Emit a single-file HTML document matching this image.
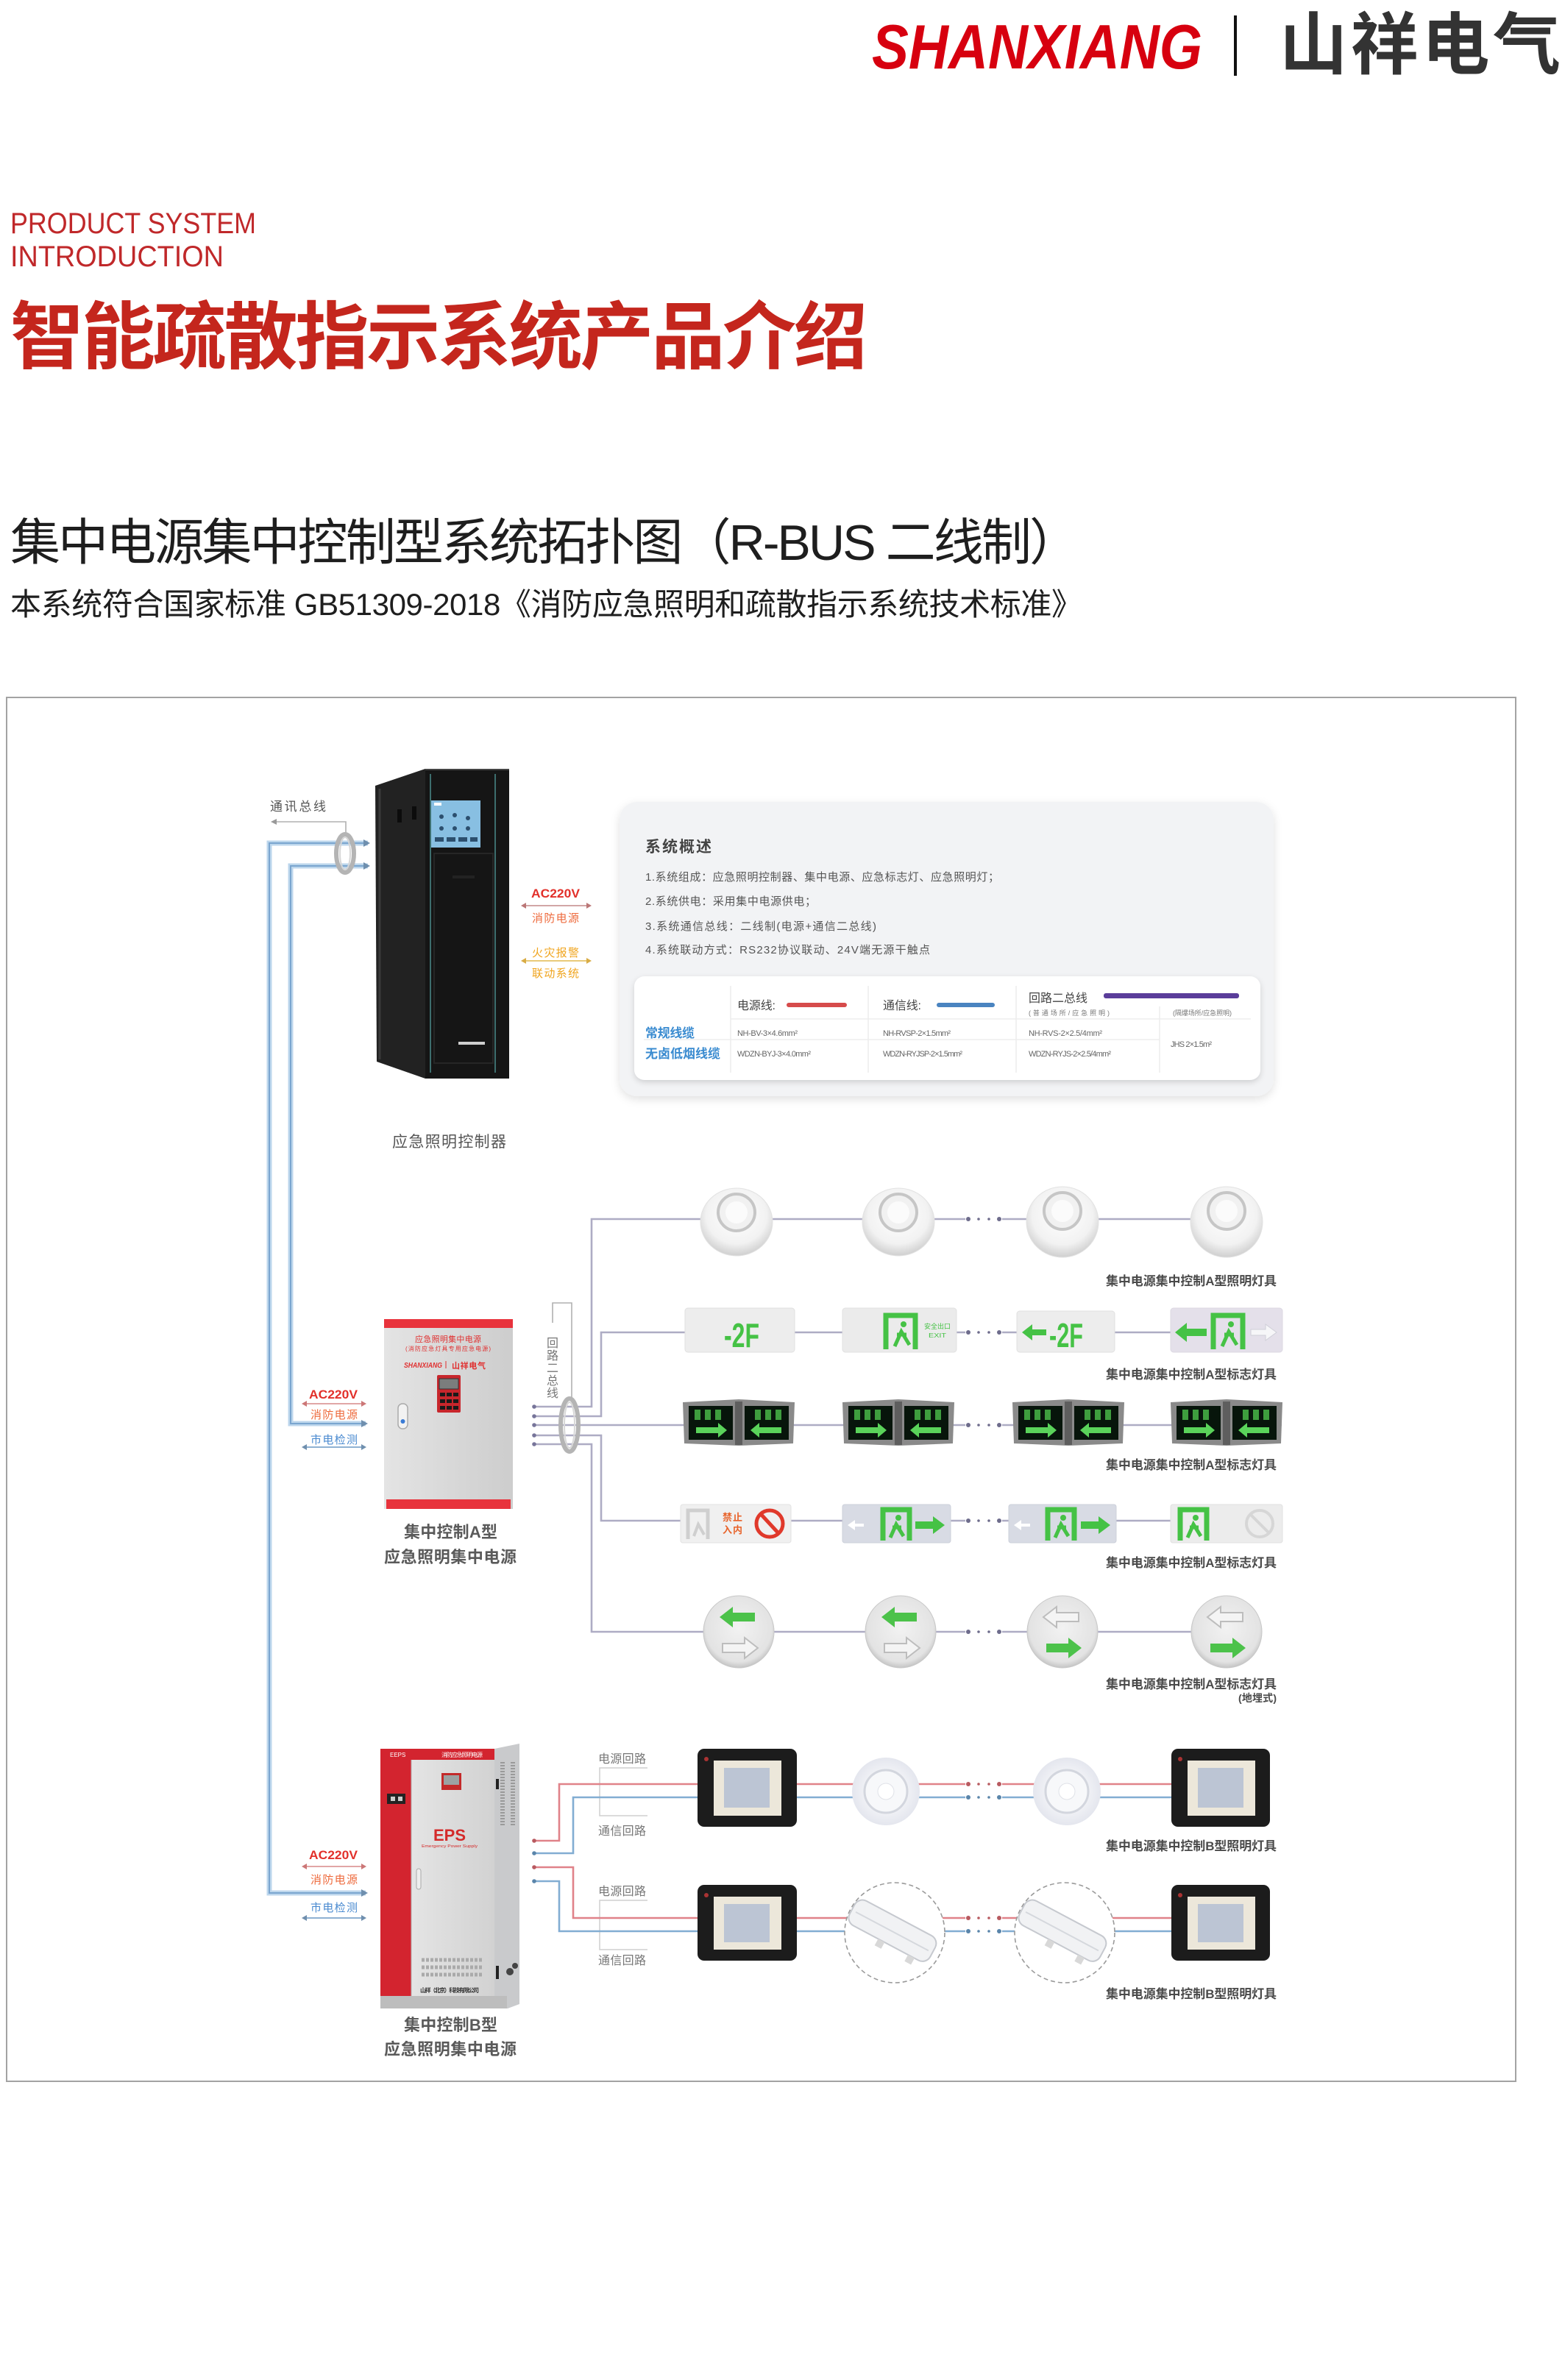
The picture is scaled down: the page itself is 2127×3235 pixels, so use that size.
<!DOCTYPE html>
<html><head><meta charset="utf-8">
<style>
html,body{margin:0;padding:0;background:#fff;}
body{width:2127px;height:3235px;overflow:hidden;position:relative;}
svg{position:absolute;left:0;top:0;}
.f{font-family:"Liberation Sans","Noto Sans CJK SC",sans-serif;}
</style></head>
<body>
<svg width="2127" height="3235" viewBox="0 0 2127 3235" xmlns="http://www.w3.org/2000/svg">
<defs>
<filter id="sh" x="-5%" y="-5%" width="110%" height="115%"><feDropShadow dx="0" dy="4" stdDeviation="6" flood-color="#000" flood-opacity="0.12"/></filter>
<filter id="sh2" x="-5%" y="-10%" width="110%" height="130%"><feDropShadow dx="0" dy="3" stdDeviation="4" flood-color="#000" flood-opacity="0.15"/></filter>
<radialGradient id="dome" cx="50%" cy="40%" r="60%"><stop offset="0" stop-color="#ffffff"/><stop offset="0.7" stop-color="#f2f2f2"/><stop offset="1" stop-color="#cfcfcf"/></radialGradient>
<radialGradient id="floor" cx="50%" cy="45%" r="55%"><stop offset="0" stop-color="#f2f2f2"/><stop offset="0.85" stop-color="#e3e3e3"/><stop offset="1" stop-color="#c4c4c4"/></radialGradient>
<radialGradient id="down" cx="50%" cy="50%" r="50%"><stop offset="0" stop-color="#ffffff"/><stop offset="0.6" stop-color="#f1f2f6"/><stop offset="1" stop-color="#e4e6ee"/></radialGradient>
<linearGradient id="gA" x1="0" x2="1"><stop offset="0" stop-color="#e4e4e4"/><stop offset="1" stop-color="#cdcdcd"/></linearGradient>
<linearGradient id="gDoor" x1="0" x2="1"><stop offset="0" stop-color="#e4e4e4"/><stop offset="1" stop-color="#d2d2d2"/></linearGradient>
</defs>

<!-- HEADER -->
<text x="1185" y="93" font-family="Liberation Sans, sans-serif" font-weight="700" font-style="italic" font-size="85" fill="#d7000f" textLength="449" lengthAdjust="spacingAndGlyphs">SHANXIANG</text>
<rect x="1677" y="21" width="4" height="82" fill="#111"/>
<text class="f" x="1739" y="93" font-size="92" font-weight="700" fill="#333" textLength="382" lengthAdjust="spacing">山祥电气</text>

<text x="14" y="317" font-family="Liberation Sans, sans-serif" font-size="40" fill="#c0282a" textLength="334" lengthAdjust="spacingAndGlyphs">PRODUCT SYSTEM</text>
<text x="14" y="362" font-family="Liberation Sans, sans-serif" font-size="40" fill="#c0282a" textLength="290" lengthAdjust="spacingAndGlyphs">INTRODUCTION</text>
<text class="f" x="14" y="493" font-size="100" font-weight="700" fill="#c4261d" textLength="1165" lengthAdjust="spacing">智能疏散指示系统产品介绍</text>

<text class="f" x="14" y="761" font-size="68" fill="#1e1e1e" textLength="1453" lengthAdjust="spacing">集中电源集中控制型系统拓扑图（R-BUS 二线制）</text>
<text class="f" x="14" y="836" font-size="42" fill="#1e1e1e" textLength="1457" lengthAdjust="spacing">本系统符合国家标准 GB51309-2018《消防应急照明和疏散指示系统技术标准》</text>

<!-- DIAGRAM BORDER -->
<rect x="9" y="948" width="2051" height="1881" fill="none" stroke="#a3a3a3" stroke-width="2"/>

<!-- comm bus label + line -->
<text class="f" x="367" y="1102" font-size="17" fill="#555" textLength="76" lengthAdjust="spacing">通讯总线</text>
<path d="M372,1117 H470 V1134" fill="none" stroke="#b0b0b0" stroke-width="1.6"/>
<polygon points="368,1117 376,1113 376,1121" fill="#999"/>

<!-- blue pipes -->
<path d="M500,1146 H366 V2573 H497" fill="none" stroke="#bcd6ec" stroke-width="7"/>
<path d="M500,1146 H366 V2573 H497" fill="none" stroke="#7aa5cf" stroke-width="2"/>
<path d="M500,1177 H395 V1935 H497" fill="none" stroke="#bcd6ec" stroke-width="7"/>
<path d="M500,1177 H395 V1935 H497" fill="none" stroke="#7aa5cf" stroke-width="2"/>
<polygon points="503,1146 494,1141 494,1151" fill="#6f8fae"/>
<polygon points="503,1177 494,1172 494,1182" fill="#6f8fae"/>
<polygon points="500,1935 491,1930 491,1940" fill="#6f8fae"/>
<polygon points="500,2573 491,2568 491,2578" fill="#6f8fae"/>
<!-- ring top -->
<ellipse cx="469" cy="1160" rx="12" ry="26" fill="none" stroke="#b4b4b4" stroke-width="6"/>
<ellipse cx="469" cy="1160" rx="7" ry="22" fill="none" stroke="#d6d6d6" stroke-width="2"/>

<!-- CONTROLLER CABINET -->
<polygon points="510,1068 578,1045 578,1466 512,1443" fill="#222"/>
<line x1="516" y1="1072" x2="516" y2="1440" stroke="#3a3a3a" stroke-width="3"/>
<rect x="540" y="1100" width="6" height="18" fill="#0c0c0c"/>
<rect x="560" y="1096" width="6" height="18" fill="#0c0c0c"/>
<rect x="578" y="1045" width="114" height="421" fill="#151515"/>
<line x1="578" y1="1046" x2="692" y2="1046" stroke="#444" stroke-width="2"/>
<line x1="585" y1="1052" x2="585" y2="1458" stroke="#3d6e6e" stroke-width="2"/>
<line x1="673" y1="1052" x2="673" y2="1458" stroke="#3d6e6e" stroke-width="2"/>
<rect x="586" y="1088" width="67" height="64" fill="#88bfe2"/>
<rect x="590" y="1091" width="10" height="4" fill="#fff"/>
<circle cx="600" cy="1110" r="3" fill="#2c4f6e"/><circle cx="618" cy="1108" r="3" fill="#2c4f6e"/><circle cx="636" cy="1112" r="3" fill="#2c4f6e"/>
<circle cx="600" cy="1126" r="3" fill="#2c4f6e"/><circle cx="618" cy="1126" r="3" fill="#2c4f6e"/><circle cx="636" cy="1126" r="3" fill="#2c4f6e"/>
<rect x="591" y="1138" width="12" height="6" fill="#2c4f6e"/><rect x="607" y="1138" width="12" height="6" fill="#2c4f6e"/><rect x="623" y="1138" width="12" height="6" fill="#2c4f6e"/><rect x="639" y="1138" width="10" height="6" fill="#2c4f6e"/>
<rect x="590" y="1160" width="80" height="285" fill="none" stroke="#262626" stroke-width="2"/>
<rect x="615" y="1190" width="30" height="4" fill="#222"/>
<rect x="623" y="1416" width="36" height="4" fill="#cfcfcf"/>
<text class="f" x="533" y="1559" font-size="21" fill="#555" textLength="155" lengthAdjust="spacing">应急照明控制器</text>

<!-- right labels of controller -->
<text class="f" x="722" y="1220" font-size="17" font-weight="700" fill="#e2302a" textLength="66" lengthAdjust="spacingAndGlyphs">AC220V</text>
<line x1="712" y1="1231" x2="800" y2="1231" stroke="#c99" stroke-width="1.8"/>
<polygon points="708,1231 715,1227 715,1235" fill="#b77"/><polygon points="804,1231 797,1227 797,1235" fill="#b77"/>
<text class="f" x="723" y="1253" font-size="15" fill="#ee6a3c" textLength="64" lengthAdjust="spacing">消防电源</text>
<text class="f" x="723" y="1300" font-size="15" fill="#f0a51f" textLength="64" lengthAdjust="spacing">火灾报警</text>
<line x1="712" y1="1306" x2="800" y2="1306" stroke="#e6c267" stroke-width="1.8"/>
<polygon points="708,1306 715,1302 715,1310" fill="#d9ac45"/><polygon points="804,1306 797,1302 797,1310" fill="#d9ac45"/>
<text class="f" x="723" y="1328" font-size="15" fill="#f0a51f" textLength="64" lengthAdjust="spacing">联动系统</text>

<!-- INFO BOX -->
<rect x="842" y="1090" width="889" height="400" rx="24" fill="#f2f3f5" filter="url(#sh)"/>
<text class="f" x="877" y="1158" font-size="21" font-weight="700" fill="#444" textLength="90" lengthAdjust="spacing">系统概述</text>
<text class="f" x="877" y="1197" font-size="15" fill="#555" textLength="481" lengthAdjust="spacing">1.系统组成：应急照明控制器、集中电源、应急标志灯、应急照明灯；</text>
<text class="f" x="877" y="1230" font-size="15" fill="#555" textLength="232" lengthAdjust="spacing">2.系统供电：采用集中电源供电；</text>
<text class="f" x="877" y="1264" font-size="15" fill="#555" textLength="314" lengthAdjust="spacing">3.系统通信总线：二线制(电源+通信二总线)</text>
<text class="f" x="877" y="1296" font-size="15" fill="#555" textLength="387" lengthAdjust="spacing">4.系统联动方式：RS232协议联动、24V端无源干触点</text>

<rect x="862" y="1327" width="851" height="141" rx="14" fill="#fff" filter="url(#sh2)"/>
<line x1="993" y1="1340" x2="993" y2="1458" stroke="#ececec" stroke-width="1.5"/>
<line x1="1180" y1="1340" x2="1180" y2="1458" stroke="#ececec" stroke-width="1.5"/>
<line x1="1381" y1="1340" x2="1381" y2="1458" stroke="#ececec" stroke-width="1.5"/>
<line x1="1576" y1="1368" x2="1576" y2="1458" stroke="#ececec" stroke-width="1.5"/>
<line x1="993" y1="1385" x2="1700" y2="1385" stroke="#ededed" stroke-width="1.5"/>
<line x1="875" y1="1413" x2="1576" y2="1413" stroke="#ededed" stroke-width="1.5"/>
<text class="f" x="1002" y="1372" font-size="16" fill="#444" textLength="52" lengthAdjust="spacing">电源线:</text>
<rect x="1069" y="1363" width="82" height="6" rx="3" fill="#d64b4b"/>
<text class="f" x="1200" y="1372" font-size="16" fill="#444" textLength="52" lengthAdjust="spacing">通信线:</text>
<rect x="1273" y="1363" width="79" height="6" rx="3" fill="#4a84c0"/>
<text class="f" x="1398" y="1362" font-size="16" fill="#444" textLength="80" lengthAdjust="spacing">回路二总线</text>
<rect x="1500" y="1350" width="184" height="7" rx="3" fill="#5a3d9a"/>
<text class="f" x="1398" y="1380" font-size="9" fill="#777" textLength="110" lengthAdjust="spacing">(普通场所/应急照明)</text>
<text class="f" x="1594" y="1380" font-size="9" fill="#777" textLength="80" lengthAdjust="spacing">(隔爆场所/应急照明)</text>
<text class="f" x="877" y="1410" font-size="17" font-weight="700" fill="#3a8bd0" textLength="67" lengthAdjust="spacing">常规线缆</text>
<text class="f" x="877" y="1438" font-size="17" font-weight="700" fill="#3a8bd0" textLength="102" lengthAdjust="spacing">无卤低烟线缆</text>
<text class="f" x="1002" y="1408" font-size="11" fill="#666" textLength="82" lengthAdjust="spacing">NH-BV-3×4.6mm²</text>
<text class="f" x="1200" y="1408" font-size="11" fill="#666" textLength="92" lengthAdjust="spacing">NH-RVSP-2×1.5mm²</text>
<text class="f" x="1398" y="1408" font-size="11" fill="#666" textLength="100" lengthAdjust="spacing">NH-RVS-2×2.5/4mm²</text>
<text class="f" x="1002" y="1436" font-size="11" fill="#666" textLength="100" lengthAdjust="spacing">WDZN-BYJ-3×4.0mm²</text>
<text class="f" x="1200" y="1436" font-size="11" fill="#666" textLength="108" lengthAdjust="spacing">WDZN-RYJSP-2×1.5mm²</text>
<text class="f" x="1398" y="1436" font-size="11" fill="#666" textLength="112" lengthAdjust="spacing">WDZN-RYJS-2×2.5/4mm²</text>
<text class="f" x="1591" y="1423" font-size="11" fill="#666" textLength="56" lengthAdjust="spacing">JHS 2×1.5m²</text>

<!-- ===== A SECTION ===== -->
<text class="f" x="420" y="1901" font-size="17" font-weight="700" fill="#e2302a" textLength="66" lengthAdjust="spacingAndGlyphs">AC220V</text>
<line x1="414" y1="1908" x2="494" y2="1908" stroke="#d99" stroke-width="1.8"/>
<polygon points="410,1908 417,1904 417,1912" fill="#c77"/><polygon points="498,1908 491,1904 491,1912" fill="#c77"/>
<text class="f" x="422" y="1928" font-size="15" fill="#ee6a3c" textLength="64" lengthAdjust="spacing">消防电源</text>
<text class="f" x="422" y="1962" font-size="15" fill="#4a8ad0" textLength="64" lengthAdjust="spacing">市电检测</text>
<line x1="414" y1="1967" x2="494" y2="1967" stroke="#7fa6cc" stroke-width="1.8"/>
<polygon points="410,1967 417,1963 417,1971" fill="#6f8fae"/><polygon points="498,1967 491,1963 491,1971" fill="#6f8fae"/>

<!-- box A -->
<rect x="522" y="1793" width="175" height="258" fill="url(#gA)"/>
<rect x="522" y="1793" width="175" height="12" fill="#e8333c"/>
<rect x="525" y="2038" width="169" height="13" fill="#e8333c"/>
<text class="f" x="609" y="1824" font-size="11" fill="#e03030" text-anchor="middle" textLength="90" lengthAdjust="spacing">应急照明集中电源</text>
<text class="f" x="609" y="1836" font-size="8" fill="#e03030" text-anchor="middle" textLength="116" lengthAdjust="spacing">(消防应急灯具专用应急电源)</text>
<text x="549" y="1859" font-family="Liberation Sans, sans-serif" font-size="10" font-weight="700" font-style="italic" fill="#e03030" textLength="52" lengthAdjust="spacingAndGlyphs">SHANXIANG</text>
<line x1="606" y1="1850" x2="606" y2="1860" stroke="#e03030" stroke-width="1"/>
<text class="f" x="614" y="1860" font-size="11" font-weight="700" fill="#e03030" textLength="46" lengthAdjust="spacing">山祥电气</text>
<rect x="594" y="1869" width="32" height="51" rx="2" fill="#c8262c"/>
<rect x="597" y="1874" width="26" height="14" fill="#7b7d7d" stroke="#333" stroke-width="1"/>
<g fill="#1a1a1a">
<rect x="598" y="1893" width="7" height="5"/><rect x="607" y="1893" width="7" height="5"/><rect x="616" y="1893" width="7" height="5"/>
<rect x="598" y="1902" width="7" height="5"/><rect x="607" y="1902" width="7" height="5"/><rect x="616" y="1902" width="7" height="5"/>
<rect x="598" y="1911" width="7" height="5"/><rect x="607" y="1911" width="7" height="5"/><rect x="616" y="1911" width="7" height="5"/>
</g>
<rect x="541" y="1908" width="13" height="34" rx="6" fill="#f2f2f2" stroke="#aaa" stroke-width="1.5"/>
<circle cx="547.5" cy="1932" r="3" fill="#3a7bd5"/>
<text class="f" x="549" y="2090" font-size="22" font-weight="700" fill="#5a5a5a" textLength="127" lengthAdjust="spacing">集中控制A型</text>
<text class="f" x="522" y="2124" font-size="22" font-weight="700" fill="#5a5a5a" textLength="180" lengthAdjust="spacing">应急照明集中电源</text>

<!-- bus bracket label -->
<path d="M751,1798 V1771 H777 V1901" fill="none" stroke="#b0b0b0" stroke-width="1.6"/>
<g class="f" font-size="16" fill="#777" text-anchor="middle">
<text x="751" y="1831">回</text><text x="751" y="1848">路</text><text x="751" y="1865">二</text><text x="751" y="1882">总</text><text x="751" y="1899">线</text>
</g>

<!-- bus lines -->
<g fill="none" stroke="#aeacc4" stroke-width="2.6">
<path d="M724,1912 H804 V1657 H1667"/>
<path d="M724,1925 H817 V1811 H1743"/>
<path d="M724,1937 H1742"/>
<path d="M724,1951 H817 V2067 H1743"/>
<path d="M724,1963 H804 V2218 H1667"/>
</g>
<g fill="#77759a">
<circle cx="726" cy="1912" r="2.8"/><circle cx="726" cy="1925" r="2.8"/><circle cx="726" cy="1937" r="2.8"/><circle cx="726" cy="1951" r="2.8"/><circle cx="726" cy="1963" r="2.8"/>
</g>
<ellipse cx="774" cy="1937" rx="12" ry="36" fill="none" stroke="#b4b4b4" stroke-width="6"/>
<ellipse cx="774" cy="1937" rx="7" ry="31" fill="none" stroke="#d8d8d8" stroke-width="2"/>

<!-- gap masks + dots, A rows -->
<g fill="#fff">
<rect x="1312" y="1650" width="50" height="14"/><rect x="1312" y="1804" width="50" height="14"/><rect x="1312" y="1930" width="50" height="14"/><rect x="1312" y="2060" width="50" height="14"/><rect x="1312" y="2211" width="50" height="14"/>
</g>
<g fill="#6e6c8c">
<circle cx="1316" cy="1657" r="3"/><circle cx="1330" cy="1657" r="1.8"/><circle cx="1344" cy="1657" r="1.8"/><circle cx="1358" cy="1657" r="3"/>
<circle cx="1316" cy="1811" r="3"/><circle cx="1330" cy="1811" r="1.8"/><circle cx="1344" cy="1811" r="1.8"/><circle cx="1358" cy="1811" r="3"/>
<circle cx="1316" cy="1937" r="3"/><circle cx="1330" cy="1937" r="1.8"/><circle cx="1344" cy="1937" r="1.8"/><circle cx="1358" cy="1937" r="3"/>
<circle cx="1316" cy="2067" r="3"/><circle cx="1330" cy="2067" r="1.8"/><circle cx="1344" cy="2067" r="1.8"/><circle cx="1358" cy="2067" r="3"/>
<circle cx="1316" cy="2218" r="3"/><circle cx="1330" cy="2218" r="1.8"/><circle cx="1344" cy="2218" r="1.8"/><circle cx="1358" cy="2218" r="3"/>
</g>

<!-- Row 1 dome lights -->
<g transform="translate(1001,1658)"><ellipse cx="0" cy="3" rx="49" ry="46" fill="url(#dome)" stroke="#e2e2e2"/><circle cx="0" cy="-10" r="25" fill="#f1f1f1" stroke="#c6c6c6" stroke-width="4"/><circle cx="0" cy="-10" r="15" fill="#fbfbfb"/></g>
<g transform="translate(1221,1658)"><ellipse cx="0" cy="3" rx="49" ry="46" fill="url(#dome)" stroke="#e2e2e2"/><circle cx="0" cy="-10" r="25" fill="#f1f1f1" stroke="#c6c6c6" stroke-width="4"/><circle cx="0" cy="-10" r="15" fill="#fbfbfb"/></g>
<g transform="translate(1444,1658)"><ellipse cx="0" cy="3" rx="49" ry="48" fill="url(#dome)" stroke="#e2e2e2"/><circle cx="0" cy="-12" r="25" fill="#f1f1f1" stroke="#c6c6c6" stroke-width="4"/><circle cx="0" cy="-12" r="15" fill="#fbfbfb"/></g>
<g transform="translate(1667,1658)"><ellipse cx="0" cy="3" rx="49" ry="48" fill="url(#dome)" stroke="#e2e2e2"/><circle cx="0" cy="-12" r="25" fill="#f1f1f1" stroke="#c6c6c6" stroke-width="4"/><circle cx="0" cy="-12" r="15" fill="#fbfbfb"/></g>
<text class="f" x="1735" y="1747" font-size="17" font-weight="700" fill="#4a4a4a" text-anchor="end" textLength="232" lengthAdjust="spacing">集中电源集中控制A型照明灯具</text>

<!-- Row 2 signs -->
<rect x="931" y="1778" width="149" height="60" rx="4" fill="#ededed" stroke="#e0e0e0"/>
<text x="984" y="1831" font-family="Liberation Sans, sans-serif" font-size="46" font-weight="700" fill="#45c245" textLength="48" lengthAdjust="spacingAndGlyphs">-2F</text>
<rect x="1145" y="1778" width="155" height="60" rx="4" fill="#ebebeb" stroke="#e0e0e0"/>
<g transform="translate(1200,1784)" fill="none" stroke="#45c245" stroke-width="7"><path d="M4,50 V4 H44 V50"/><path d="M16,46 L25,26 L36,44 M19,30 L32,30" stroke-width="5"/><circle cx="28" cy="16" r="4" fill="#45c245" stroke="none"/></g>
<text class="f" x="1256" y="1806" font-size="9" fill="#45c245" textLength="36" lengthAdjust="spacing">安全出口</text>
<text x="1262" y="1818" font-family="Liberation Sans, sans-serif" font-size="8" fill="#45c245" textLength="24" lengthAdjust="spacingAndGlyphs">EXIT</text>
<rect x="1382" y="1782" width="133" height="56" rx="4" fill="#ededed" stroke="#e0e0e0"/>
<polygon points="1389,1811 1403,1800 1403,1807 1422,1807 1422,1815 1403,1815 1403,1822" fill="#45c245"/>
<text x="1426" y="1831" font-family="Liberation Sans, sans-serif" font-size="46" font-weight="700" fill="#45c245" textLength="46" lengthAdjust="spacingAndGlyphs">-2F</text>
<rect x="1591" y="1778" width="152" height="60" rx="4" fill="#e4e0ea" stroke="#dcd8e2"/>
<polygon points="1597,1811 1613,1798 1613,1806 1640,1806 1640,1816 1613,1816 1613,1824" fill="#45c245"/>
<g transform="translate(1645,1784)" fill="none" stroke="#45c245" stroke-width="7"><path d="M4,50 V4 H44 V50"/><path d="M16,46 L25,26 L36,44 M19,30 L32,30" stroke-width="5"/><circle cx="28" cy="16" r="4" fill="#45c245" stroke="none"/></g>
<polygon points="1735,1811 1720,1800 1720,1807 1700,1807 1700,1815 1720,1815 1720,1822" fill="#f6f6f8" stroke="#cfcfd8"/>
<text class="f" x="1735" y="1874" font-size="17" font-weight="700" fill="#4a4a4a" text-anchor="end" textLength="232" lengthAdjust="spacing">集中电源集中控制A型标志灯具</text>

<!-- Row 3 dark double signs -->
<g transform="translate(928,1902)"><path d="M0,4 L76,0 L152,4 L150,60 L76,63 L2,60 Z" fill="#8a8a8a"/><rect x="8" y="9" width="60" height="46" fill="#07150b"/><rect x="84" y="9" width="60" height="46" fill="#07150b"/><rect x="71" y="3" width="10" height="59" fill="#5e5e5e"/><g fill="#3e9e3e"><rect x="16" y="14" width="8" height="14"/><rect x="30" y="14" width="8" height="14"/><rect x="44" y="14" width="8" height="14"/><rect x="98" y="14" width="8" height="14"/><rect x="112" y="14" width="8" height="14"/><rect x="126" y="14" width="8" height="14"/></g><g fill="#5ad35a"><polygon points="60,42 48,32 48,38 18,38 18,46 48,46 48,52"/><polygon points="92,42 104,32 104,38 134,38 134,46 104,46 104,52"/></g></g>
<g transform="translate(1145,1902)"><path d="M0,4 L76,0 L152,4 L150,60 L76,63 L2,60 Z" fill="#8a8a8a"/><rect x="8" y="9" width="60" height="46" fill="#07150b"/><rect x="84" y="9" width="60" height="46" fill="#07150b"/><rect x="71" y="3" width="10" height="59" fill="#5e5e5e"/><g fill="#3e9e3e"><rect x="16" y="14" width="8" height="14"/><rect x="30" y="14" width="8" height="14"/><rect x="44" y="14" width="8" height="14"/><rect x="98" y="14" width="8" height="14"/><rect x="112" y="14" width="8" height="14"/><rect x="126" y="14" width="8" height="14"/></g><g fill="#5ad35a"><polygon points="60,42 48,32 48,38 18,38 18,46 48,46 48,52"/><polygon points="92,42 104,32 104,38 134,38 134,46 104,46 104,52"/></g></g>
<g transform="translate(1376,1902)"><path d="M0,4 L76,0 L152,4 L150,60 L76,63 L2,60 Z" fill="#8a8a8a"/><rect x="8" y="9" width="60" height="46" fill="#07150b"/><rect x="84" y="9" width="60" height="46" fill="#07150b"/><rect x="71" y="3" width="10" height="59" fill="#5e5e5e"/><g fill="#3e9e3e"><rect x="16" y="14" width="8" height="14"/><rect x="30" y="14" width="8" height="14"/><rect x="44" y="14" width="8" height="14"/><rect x="98" y="14" width="8" height="14"/><rect x="112" y="14" width="8" height="14"/><rect x="126" y="14" width="8" height="14"/></g><g fill="#5ad35a"><polygon points="60,42 48,32 48,38 18,38 18,46 48,46 48,52"/><polygon points="92,42 104,32 104,38 134,38 134,46 104,46 104,52"/></g></g>
<g transform="translate(1591,1902)"><path d="M0,4 L76,0 L152,4 L150,60 L76,63 L2,60 Z" fill="#8a8a8a"/><rect x="8" y="9" width="60" height="46" fill="#07150b"/><rect x="84" y="9" width="60" height="46" fill="#07150b"/><rect x="71" y="3" width="10" height="59" fill="#5e5e5e"/><g fill="#3e9e3e"><rect x="16" y="14" width="8" height="14"/><rect x="30" y="14" width="8" height="14"/><rect x="44" y="14" width="8" height="14"/><rect x="98" y="14" width="8" height="14"/><rect x="112" y="14" width="8" height="14"/><rect x="126" y="14" width="8" height="14"/></g><g fill="#5ad35a"><polygon points="60,42 48,32 48,38 18,38 18,46 48,46 48,52"/><polygon points="92,42 104,32 104,38 134,38 134,46 104,46 104,52"/></g></g>
<text class="f" x="1735" y="1997" font-size="17" font-weight="700" fill="#4a4a4a" text-anchor="end" textLength="232" lengthAdjust="spacing">集中电源集中控制A型标志灯具</text>

<!-- Row 4 signs -->
<rect x="925" y="2045" width="150" height="52" rx="3" fill="#f0f0f0" stroke="#e2e2e2"/>
<g transform="translate(932,2050)" fill="none" stroke="#cfcfcf" stroke-width="5"><path d="M3,42 V3 H30 V42"/><path d="M11,38 L17,22 L25,36" stroke-width="4"/></g>
<text class="f" x="982" y="2067" font-size="13" font-weight="700" fill="#e8632a" textLength="27" lengthAdjust="spacing">禁止</text>
<text class="f" x="982" y="2084" font-size="13" font-weight="700" fill="#e8632a" textLength="27" lengthAdjust="spacing">入内</text>
<circle cx="1046" cy="2071" r="18" fill="none" stroke="#e0392b" stroke-width="5"/>
<line x1="1034" y1="2058" x2="1058" y2="2084" stroke="#e0392b" stroke-width="5"/>
<rect x="1145" y="2045" width="147" height="52" rx="3" fill="#d8dbe4" stroke="#ccd0da"/>
<polygon points="1152,2073 1162,2066 1162,2071 1174,2071 1174,2075 1162,2075 1162,2080" fill="#fff"/>
<g transform="translate(1196,2048)" fill="none" stroke="#45c245" stroke-width="7"><path d="M4,46 V4 H40 V46"/><path d="M14,42 L22,24 L32,40 M17,28 L29,28" stroke-width="5"/><circle cx="25" cy="15" r="4" fill="#45c245" stroke="none"/></g>
<polygon points="1284,2073 1268,2061 1268,2068 1244,2068 1244,2078 1268,2078 1268,2085" fill="#45c245"/>
<rect x="1371" y="2045" width="146" height="52" rx="3" fill="#d8dbe4" stroke="#ccd0da"/>
<polygon points="1378,2073 1388,2066 1388,2071 1400,2071 1400,2075 1388,2075 1388,2080" fill="#fff"/>
<g transform="translate(1420,2048)" fill="none" stroke="#45c245" stroke-width="7"><path d="M4,46 V4 H40 V46"/><path d="M14,42 L22,24 L32,40 M17,28 L29,28" stroke-width="5"/><circle cx="25" cy="15" r="4" fill="#45c245" stroke="none"/></g>
<polygon points="1509,2073 1493,2061 1493,2068 1469,2068 1469,2078 1493,2078 1493,2085" fill="#45c245"/>
<rect x="1591" y="2045" width="152" height="52" rx="3" fill="#ececec" stroke="#e0e0e0"/>
<g transform="translate(1600,2048)" fill="none" stroke="#45c245" stroke-width="7"><path d="M4,46 V4 H40 V46"/><path d="M14,42 L22,24 L32,40 M17,28 L29,28" stroke-width="5"/><circle cx="25" cy="15" r="4" fill="#45c245" stroke="none"/></g>
<circle cx="1712" cy="2071" r="18" fill="none" stroke="#d6d6d6" stroke-width="4"/>
<line x1="1700" y1="2059" x2="1724" y2="2083" stroke="#d6d6d6" stroke-width="4"/>
<text class="f" x="1735" y="2130" font-size="17" font-weight="700" fill="#4a4a4a" text-anchor="end" textLength="232" lengthAdjust="spacing">集中电源集中控制A型标志灯具</text>

<!-- Row 5 floor lights -->
<g transform="translate(1004,2218)"><ellipse cx="0" cy="0" rx="48" ry="49" fill="url(#floor)" stroke="#c8c8c8"/><polygon points="-26,-20 -8,-34 -8,-26 22,-26 22,-14 -8,-14 -8,-6" fill="#4cc24a"/><polygon points="26,22 8,8 8,16 -22,16 -22,28 8,28 8,36" fill="#f4f4f4" stroke="#bdbdbd" stroke-width="2"/></g>
<g transform="translate(1224,2218)"><ellipse cx="0" cy="0" rx="48" ry="49" fill="url(#floor)" stroke="#c8c8c8"/><polygon points="-26,-20 -8,-34 -8,-26 22,-26 22,-14 -8,-14 -8,-6" fill="#4cc24a"/><polygon points="26,22 8,8 8,16 -22,16 -22,28 8,28 8,36" fill="#f4f4f4" stroke="#bdbdbd" stroke-width="2"/></g>
<g transform="translate(1444,2218)"><ellipse cx="0" cy="0" rx="48" ry="49" fill="url(#floor)" stroke="#c8c8c8"/><polygon points="-26,-20 -8,-34 -8,-26 22,-26 22,-14 -8,-14 -8,-6" fill="#f4f4f4" stroke="#bdbdbd" stroke-width="2"/><polygon points="26,22 8,8 8,16 -22,16 -22,28 8,28 8,36" fill="#4cc24a"/></g>
<g transform="translate(1667,2218)"><ellipse cx="0" cy="0" rx="48" ry="49" fill="url(#floor)" stroke="#c8c8c8"/><polygon points="-26,-20 -8,-34 -8,-26 22,-26 22,-14 -8,-14 -8,-6" fill="#f4f4f4" stroke="#bdbdbd" stroke-width="2"/><polygon points="26,22 8,8 8,16 -22,16 -22,28 8,28 8,36" fill="#4cc24a"/></g>
<text class="f" x="1735" y="2295" font-size="17" font-weight="700" fill="#4a4a4a" text-anchor="end" textLength="232" lengthAdjust="spacing">集中电源集中控制A型标志灯具</text>
<text class="f" x="1735" y="2313" font-size="14" font-weight="700" fill="#4a4a4a" text-anchor="end" textLength="52" lengthAdjust="spacing">(地埋式)</text>

<!-- ===== B SECTION ===== -->
<text class="f" x="420" y="2527" font-size="17" font-weight="700" fill="#e2302a" textLength="66" lengthAdjust="spacingAndGlyphs">AC220V</text>
<line x1="414" y1="2537" x2="494" y2="2537" stroke="#d99" stroke-width="1.8"/>
<polygon points="410,2537 417,2533 417,2541" fill="#c77"/><polygon points="498,2537 491,2533 491,2541" fill="#c77"/>
<text class="f" x="422" y="2560" font-size="15" fill="#ee6a3c" textLength="64" lengthAdjust="spacing">消防电源</text>
<text class="f" x="422" y="2598" font-size="15" fill="#4a8ad0" textLength="64" lengthAdjust="spacing">市电检测</text>
<line x1="414" y1="2607" x2="494" y2="2607" stroke="#7fa6cc" stroke-width="1.8"/>
<polygon points="410,2607 417,2603 417,2611" fill="#6f8fae"/><polygon points="498,2607 491,2603 491,2611" fill="#6f8fae"/>

<!-- EPS cabinet -->
<polygon points="672,2377 706,2370 706,2724 690,2730 672,2730" fill="#c9cacc"/>
<line x1="683" y1="2395" x2="683" y2="2482" stroke="#9a9a9a" stroke-width="6" stroke-dasharray="2 2"/>
<line x1="697" y1="2395" x2="697" y2="2482" stroke="#9a9a9a" stroke-width="6" stroke-dasharray="2 2"/>
<rect x="674" y="2418" width="4" height="14" fill="#222"/>
<rect x="674" y="2672" width="4" height="18" fill="#222"/>
<circle cx="693" cy="2680" r="5" fill="#444"/><circle cx="700" cy="2672" r="4" fill="#444"/>
<rect x="517" y="2377" width="42" height="336" fill="#d3242f"/>
<rect x="517" y="2377" width="155" height="15" fill="#d3242f"/>
<text x="530" y="2388" font-family="Liberation Sans, sans-serif" font-size="8" fill="#fff">EEPS</text>
<text class="f" x="600" y="2388" font-size="8" fill="#fff" textLength="56" lengthAdjust="spacing">消防应急照明电源</text>
<rect x="559" y="2392" width="113" height="321" fill="url(#gDoor)"/>
<line x1="559" y1="2392" x2="559" y2="2713" stroke="#b5b5b5" stroke-width="1"/>
<rect x="517" y="2713" width="172" height="17" fill="#bdbdbd"/>
<rect x="600" y="2410" width="27" height="23" fill="#c42a2a"/>
<rect x="603" y="2413" width="21" height="13" fill="#9ca2a2"/>
<rect x="526" y="2438" width="25" height="14" fill="#222"/>
<rect x="531" y="2442" width="6" height="6" fill="#ccc"/><rect x="541" y="2442" width="6" height="6" fill="#ccc"/>
<text x="611" y="2502" font-family="Liberation Sans, sans-serif" font-size="22" font-weight="700" fill="#d42a2a" text-anchor="middle" textLength="44" lengthAdjust="spacingAndGlyphs">EPS</text>
<text x="611" y="2511" font-family="Liberation Sans, sans-serif" font-size="5" fill="#d42a2a" text-anchor="middle" textLength="76" lengthAdjust="spacingAndGlyphs">Emergency Power Supply</text>
<rect x="566" y="2540" width="6" height="28" rx="3" fill="#eee" stroke="#aaa"/>
<line x1="573" y1="2664" x2="655" y2="2664" stroke="#aaa" stroke-width="5" stroke-dasharray="4 2"/>
<line x1="573" y1="2674" x2="655" y2="2674" stroke="#aaa" stroke-width="5" stroke-dasharray="4 2"/>
<line x1="573" y1="2684" x2="655" y2="2684" stroke="#aaa" stroke-width="5" stroke-dasharray="4 2"/>
<text class="f" x="571" y="2708" font-size="8" font-weight="700" fill="#333" textLength="80" lengthAdjust="spacing">山祥（北京）科技有限公司</text>
<text class="f" x="549" y="2760" font-size="22" font-weight="700" fill="#5a5a5a" textLength="127" lengthAdjust="spacing">集中控制B型</text>
<text class="f" x="522" y="2793" font-size="22" font-weight="700" fill="#5a5a5a" textLength="180" lengthAdjust="spacing">应急照明集中电源</text>

<!-- B loop labels -->
<text class="f" x="813" y="2396" font-size="16" fill="#777" textLength="65" lengthAdjust="spacing">电源回路</text>
<text class="f" x="813" y="2494" font-size="16" fill="#777" textLength="65" lengthAdjust="spacing">通信回路</text>
<text class="f" x="813" y="2576" font-size="16" fill="#777" textLength="65" lengthAdjust="spacing">电源回路</text>
<text class="f" x="813" y="2670" font-size="16" fill="#777" textLength="65" lengthAdjust="spacing">通信回路</text>
<path d="M880,2403 H815 V2468 H880" fill="none" stroke="#cfcfcf" stroke-width="1.5"/>
<path d="M880,2583 H815 V2650 H880" fill="none" stroke="#cfcfcf" stroke-width="1.5"/>

<!-- B lines -->
<g fill="none" stroke-width="2.6">
<path d="M724,2502 H760 V2425 H1726" stroke="#e08289"/>
<path d="M724,2519 H779 V2443 H1726" stroke="#82add2"/>
<path d="M724,2538 H779 V2607 H1726" stroke="#e08289"/>
<path d="M724,2557 H760 V2625 H1726" stroke="#82add2"/>
</g>
<circle cx="726" cy="2502" r="2.8" fill="#b85a60"/><circle cx="726" cy="2519" r="2.8" fill="#5a85aa"/><circle cx="726" cy="2538" r="2.8" fill="#b85a60"/><circle cx="726" cy="2557" r="2.8" fill="#5a85aa"/>
<g fill="#fff"><rect x="1312" y="2419" width="50" height="30"/><rect x="1312" y="2601" width="50" height="30"/></g>
<g fill="#b85a60"><circle cx="1316" cy="2425" r="3"/><circle cx="1330" cy="2425" r="1.8"/><circle cx="1344" cy="2425" r="1.8"/><circle cx="1358" cy="2425" r="3"/><circle cx="1316" cy="2607" r="3"/><circle cx="1330" cy="2607" r="1.8"/><circle cx="1344" cy="2607" r="1.8"/><circle cx="1358" cy="2607" r="3"/></g>
<g fill="#5a85aa"><circle cx="1316" cy="2443" r="3"/><circle cx="1330" cy="2443" r="1.8"/><circle cx="1344" cy="2443" r="1.8"/><circle cx="1358" cy="2443" r="3"/><circle cx="1316" cy="2625" r="3"/><circle cx="1330" cy="2625" r="1.8"/><circle cx="1344" cy="2625" r="1.8"/><circle cx="1358" cy="2625" r="3"/></g>

<!-- B row 1 -->
<g transform="translate(948,2377)"><rect width="135" height="106" rx="9" fill="#1c1c1c"/><rect x="22" y="16" width="92" height="75" fill="#ece7da"/><rect x="36" y="26" width="62" height="54" fill="#bcc5d4"/><circle cx="12" cy="14" r="3" fill="#a33"/></g>
<g transform="translate(1592,2377)"><rect width="134" height="106" rx="9" fill="#1c1c1c"/><rect x="22" y="16" width="92" height="75" fill="#ece7da"/><rect x="36" y="26" width="62" height="54" fill="#bcc5d4"/><circle cx="12" cy="14" r="3" fill="#a33"/></g>
<g transform="translate(1204,2435)"><circle r="46" fill="url(#down)"/><circle r="29" fill="#f7f8fa" stroke="#d3d6de" stroke-width="3"/><circle r="11" fill="#fff" stroke="#e0e2e8"/></g>
<g transform="translate(1450,2435)"><circle r="46" fill="url(#down)"/><circle r="29" fill="#f7f8fa" stroke="#d3d6de" stroke-width="3"/><circle r="11" fill="#fff" stroke="#e0e2e8"/></g>
<text class="f" x="1735" y="2515" font-size="17" font-weight="700" fill="#4a4a4a" text-anchor="end" textLength="232" lengthAdjust="spacing">集中电源集中控制B型照明灯具</text>

<!-- B row 2 -->
<g transform="translate(948,2562)"><rect width="135" height="103" rx="9" fill="#1c1c1c"/><rect x="22" y="16" width="92" height="72" fill="#ece7da"/><rect x="36" y="26" width="62" height="52" fill="#bcc5d4"/><circle cx="12" cy="14" r="3" fill="#a33"/></g>
<g transform="translate(1592,2562)"><rect width="134" height="103" rx="9" fill="#1c1c1c"/><rect x="22" y="16" width="92" height="72" fill="#ece7da"/><rect x="36" y="26" width="62" height="52" fill="#bcc5d4"/><circle cx="12" cy="14" r="3" fill="#a33"/></g>
<g transform="translate(1216,2627)"><circle r="68" fill="#fff" stroke="#9a9a9a" stroke-width="1.6" stroke-dasharray="6 4"/><g transform="rotate(28)"><rect x="-66" y="-20" width="124" height="38" rx="12" fill="#f1f2f4" stroke="#c6c9cf" stroke-width="2"/><line x1="-60" y1="0" x2="52" y2="0" stroke="#d5d8dd" stroke-width="2"/><rect x="-16" y="18" width="10" height="10" fill="#d8d8d8"/><rect x="30" y="18" width="10" height="10" fill="#d8d8d8"/></g></g>
<g transform="translate(1447,2627)"><circle r="68" fill="#fff" stroke="#9a9a9a" stroke-width="1.6" stroke-dasharray="6 4"/><g transform="rotate(28)"><rect x="-66" y="-20" width="124" height="38" rx="12" fill="#f1f2f4" stroke="#c6c9cf" stroke-width="2"/><line x1="-60" y1="0" x2="52" y2="0" stroke="#d5d8dd" stroke-width="2"/><rect x="-16" y="18" width="10" height="10" fill="#d8d8d8"/><rect x="30" y="18" width="10" height="10" fill="#d8d8d8"/></g></g>
<text class="f" x="1735" y="2716" font-size="17" font-weight="700" fill="#4a4a4a" text-anchor="end" textLength="232" lengthAdjust="spacing">集中电源集中控制B型照明灯具</text>
</svg>
</body></html>
